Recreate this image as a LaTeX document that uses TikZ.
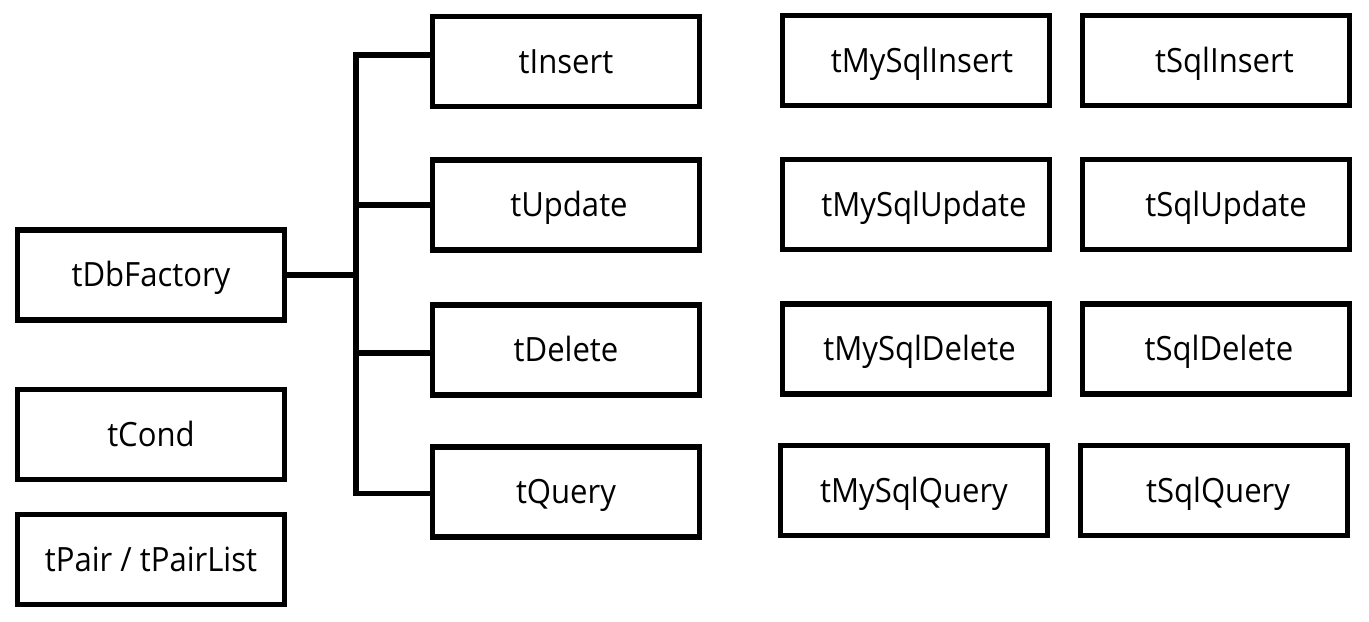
\documentclass[tikz,border=0pt]{standalone}
\usepackage{fontspec}
\setmainfont[FakeStretch=0.93]{Open Sans}
\usepackage{tikz}

\begin{document}
\begin{tikzpicture}[
    x=0.01cm, y=-0.01cm,
    font=\fontsize{9.5}{11}\selectfont,
    box/.style={draw, line width=1.45pt, minimum width=2.67cm, minimum height=0.9cm, inner sep=0pt, text height=6.8pt, text depth=0pt},
    link/.style={line width=1.45pt}]

    \useasboundingbox (0,0) rectangle (1369,622);

    \node[box] (factory) at (151,275) {tDbFactory};
    \node[box] (cond) at (151,434.5) {tCond};
    \node[box] (pair) at (151,559.5) {tPair / tPairList};

    \node[box] (insert) at (566,61.5) {tInsert};
    \node[box] (update) at (566,205) {\hspace{1.7pt}tUpdate};
    \node[box] (delete) at (566,350) {tDelete};
    \node[box] (query) at (566,492) {tQuery};

    \node[box] (myinsert) at (916,60.5) {\hspace{3.4pt}tMySqlInsert};
    \node[box] (myupdate) at (916,204.5) {\hspace{4.5pt}tMySqlUpdate};
    \node[box] (mydelete) at (916,349) {\hspace{2pt}tMySqlDelete};
    \node[box] (myquery) at (914,490.5) {tMySqlQuery};

    \node[box] (sqlinsert) at (1216,60.5) {\hspace{4.8pt}tSqlInsert};
    \node[box] (sqlupdate) at (1216,204.5) {\hspace{5.7pt}tSqlUpdate};
    \node[box] (sqldelete) at (1216,349) {\hspace{1.7pt}tSqlDelete};
    \node[box] (sqlquery) at (1214,490.5) {\hspace{2.3pt}tSqlQuery};

    \coordinate (trunk) at (356,275);
    \draw[link] (factory.east) -- (trunk);
    \draw[link] ([yshift=1.85pt]insert.west) -| (trunk) |- ([yshift=-0.5pt]query.west);
    \draw[link] (update.west) -- (update.west -| trunk);
    \draw[link] ([yshift=-0.85pt]delete.west) -- ([yshift=-0.85pt]delete.west -| trunk);
\end{tikzpicture}
\end{document}
